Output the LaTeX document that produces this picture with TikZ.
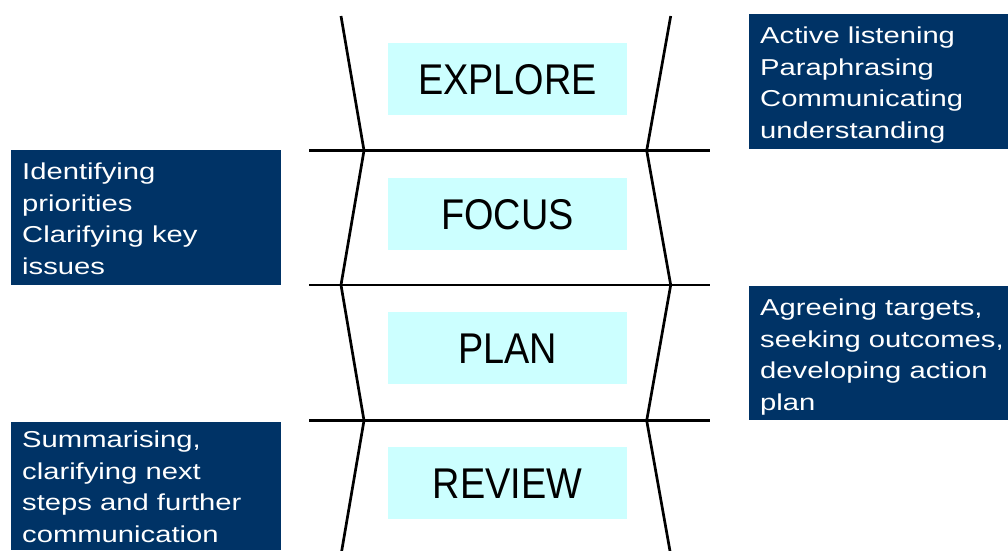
\documentclass[tikz,border=0pt]{standalone}
\usepackage{fontspec}
\setmainfont{Liberation Sans}
\newfontfamily\sidefont[FakeStretch=1.27]{Liberation Sans}
\newfontfamily\stagefont[FakeStretch=0.88]{Liberation Sans}
\definecolor{navy}{HTML}{003366}
\definecolor{paleaqua}{HTML}{CCFFFF}
\tikzset{
    stage/.style={fill=paleaqua, minimum width=239.6pt, minimum height=71.7pt, inner sep=0pt,
        font=\stagefont\fontsize{43}{50}\selectfont},
    sidebox/.style={fill=navy, anchor=north west, inner sep=0pt},
    sidetext/.style={anchor=north west, inner xsep=11pt, inner ysep=12.8pt, align=left, text=white,
        font=\sidefont\fontsize{23}{31.5}\selectfont},
    funnel/.style={line width=2.7pt, line join=miter}
}
\begin{document}
\begin{tikzpicture}[x=1pt, y=-1pt]
        \useasboundingbox (0,0) rectangle (1008,550);

        % the two zigzag sides and the dividers
        \draw[funnel] (341,16) -- (364,150.5) -- (341,285) -- (364,420.5) -- (341,555);
        \draw[funnel] (670.7,16) -- (646.7,150.5) -- (670.7,285) -- (646.7,420.5) -- (670.7,555);
        \draw[funnel] (309,150.5) -- (710,150.5);
        \draw[funnel] (309,285) -- (710,285);
        \draw[funnel] (309,420.5) -- (710,420.5);

        % stages
        \node[stage] (explore) at (507.5,79.2) {EXPLORE};
        \node[stage] (focus) at (507.5,214.2) {FOCUS};
        \node[stage] (plan) at (507.5,348.2) {PLAN};
        \node[stage] (review) at (507.5,483.2) {REVIEW};

        % skills
        \node[sidebox, minimum width=259pt, minimum height=134.3pt] (listening) at (749,14) {};
        \node[sidetext] at (listening.north west) {Active listening\\Paraphrasing\\Communicating\\understanding};
        \node[sidebox, minimum width=270pt, minimum height=134.3pt] (priorities) at (11,150) {};
        \node[sidetext] at (priorities.north west) {Identifying\\priorities\\Clarifying key\\issues};
        \node[sidebox, minimum width=259pt, minimum height=134pt] (targets) at (749,286) {};
        \node[sidetext] at (targets.north west) {Agreeing targets,\\seeking outcomes,\\developing action\\plan};
        \node[sidebox, minimum width=270pt, minimum height=128.3pt] (summary) at (11,421.7) {};
        \node[sidetext, inner ysep=9.2pt] at (summary.north west) {Summarising,\\clarifying next\\steps and further\\communication};
    \end{tikzpicture}
\end{document}
